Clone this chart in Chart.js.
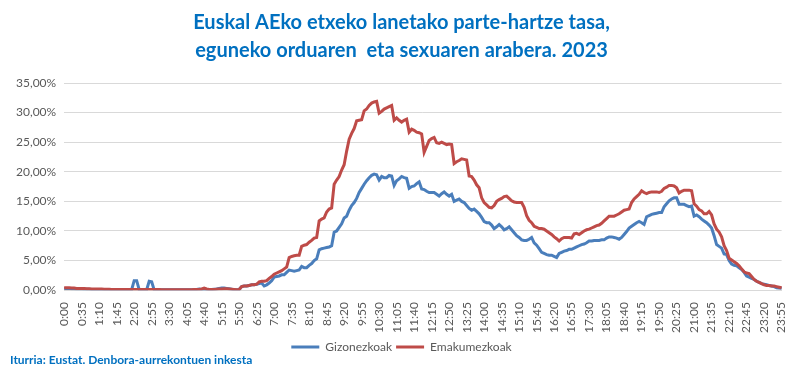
<!DOCTYPE html>
<html>
<head>
<meta charset="utf-8">
<script src="https://cdn.jsdelivr.net/npm/chart.js@4"></script>
<style>
  body { margin: 0; background: #fff; }
  #wrap { position: relative; width: 800px; height: 389px; }
  #source {
    position: absolute; left: 10px; top: 352px;
    font: bold 12px Lato, sans-serif; color: #0070C0;
  }
</style>
</head>
<body>
<div id="wrap">
  <canvas id="chart" width="800" height="389"></canvas>
  <div id="source">Iturria: Eustat. Denbora-aurrekontuen inkesta</div>
</div>
<script>
// 5-minute slots, 0:00 .. 23:55 (one row per hour)
const times = [];
for (let h = 0; h < 24; h++) {
    for (let m = 0; m < 60; m += 5) {
        times.push(`${h}:${String(m).padStart(2, '0')}`);
    }
}

const gizonezkoak = [
    0.3, 0.3, 0.3, 0.25, 0.25, 0.2, 0.2, 0.2, 0.15, 0.15, 0.15, 0.1,
    0.1, 0.1, 0.1, 0.1, 0.1, 0.05, 0.05, 0.05, 0.05, 0.05, 0.05, 0.05,
    0.05, 0.05, 0.05, 0.1, 1.6, 1.6, 0.1, 0.05, 0.05, 0.1, 1.5, 1.4,
    0.05, 0.05, 0.05, 0.05, 0.05, 0.05, 0.05, 0.05, 0.05, 0.05, 0.05, 0.05,
    0.05, 0.05, 0.05, 0.05, 0.05, 0.1, 0.2, 0.1, 0.05, 0.05, 0.1, 0.1,
    0.15, 0.2, 0.3, 0.35, 0.35, 0.3, 0.25, 0.15, 0.05, 0.05, 0.1, 0.6,
    0.7, 0.7, 0.8, 0.9, 0.9, 1.0, 1.1, 1.2, 0.7, 0.9, 1.2, 1.6,
    2.2, 2.3, 2.4, 2.6, 2.6, 3.0, 3.4, 3.3, 3.2, 3.3, 3.4, 4.0,
    3.8, 3.8, 4.2, 4.5, 5.0, 5.3, 6.8, 7.0, 7.1, 7.2, 7.3, 7.5,
    9.8, 10.0, 10.6, 11.2, 12.2, 12.5, 13.5, 14.3, 14.8, 15.5, 16.5, 17.2,
    17.9, 18.5, 19.0, 19.4, 19.6, 19.5, 18.6, 19.2, 19.0, 19.0, 19.4, 19.3,
    17.7, 18.5, 18.8, 19.2, 19.0, 18.9, 17.2, 17.5, 17.6, 18.0, 18.3, 17.1,
    17.0, 16.7, 16.5, 16.5, 16.5, 16.2, 15.9, 16.3, 16.6, 16.2, 15.9, 16.2,
    15.0, 15.2, 15.4, 15.0, 14.8, 14.3, 13.8, 13.5, 13.7, 13.3, 12.9, 12.3,
    11.6, 11.4, 11.4, 11.0, 10.4, 10.7, 11.1, 10.7, 10.2, 10.4, 10.7, 10.2,
    9.7, 9.2, 8.9, 8.5, 8.4, 8.4, 8.6, 8.9, 8.0, 7.6, 7.0, 6.4,
    6.2, 6.0, 5.9, 5.9, 5.7, 5.5, 6.2, 6.4, 6.6, 6.7, 6.9, 6.9,
    7.1, 7.3, 7.5, 7.7, 7.8, 8.0, 8.3, 8.3, 8.4, 8.4, 8.4, 8.5,
    8.5, 8.8, 9.0, 9.0, 8.9, 8.8, 8.6, 8.9, 9.4, 9.9, 10.5, 10.8,
    11.1, 11.4, 11.6, 11.4, 11.1, 12.4, 12.6, 12.8, 12.9, 13.0, 13.1, 13.1,
    14.1, 14.6, 15.1, 15.4, 15.6, 15.6, 14.5, 14.5, 14.5, 14.3, 14.1, 14.2,
    12.5, 12.7, 12.4, 12.0, 11.7, 11.4, 11.0, 10.5, 9.2, 7.7, 7.4, 7.1,
    6.1, 6.0, 5.0, 4.4, 4.2, 4.1, 3.8, 3.5, 3.0, 2.4, 2.2, 2.0,
    1.8, 1.5, 1.3, 1.1, 1.0, 0.9, 0.8, 0.7, 0.6, 0.4, 0.35, 0.3
];

const emakumezkoak = [
    0.4, 0.4, 0.4, 0.35, 0.35, 0.3, 0.3, 0.3, 0.3, 0.25, 0.25, 0.2,
    0.2, 0.2, 0.2, 0.2, 0.15, 0.15, 0.15, 0.1, 0.1, 0.1, 0.1, 0.1,
    0.1, 0.1, 0.1, 0.1, 0.1, 0.1, 0.1, 0.1, 0.1, 0.1, 0.1, 0.1,
    0.1, 0.1, 0.1, 0.05, 0.05, 0.05, 0.05, 0.05, 0.05, 0.05, 0.05, 0.05,
    0.05, 0.05, 0.05, 0.05, 0.1, 0.1, 0.1, 0.2, 0.35, 0.2, 0.1, 0.1,
    0.1, 0.15, 0.2, 0.2, 0.25, 0.25, 0.2, 0.15, 0.1, 0.05, 0.1, 0.6,
    0.7, 0.7, 0.8, 0.9, 0.9, 1.0, 1.4, 1.5, 1.5, 1.6, 2.0, 2.3,
    2.7, 2.9, 3.1, 3.3, 3.6, 3.9, 5.5, 5.7, 5.8, 5.9, 5.9, 7.4,
    7.6, 7.7, 8.1, 8.4, 8.8, 8.9, 11.7, 12.0, 12.2, 13.2, 13.7, 13.9,
    17.9, 18.6, 19.2, 20.3, 21.2, 23.5, 25.5, 26.5, 27.3, 28.6, 28.7, 28.8,
    30.3, 30.6, 31.2, 31.6, 31.8, 31.9, 29.9, 30.2, 30.6, 30.8, 31.0, 31.2,
    28.7, 29.1, 28.7, 28.4, 28.7, 28.9, 26.7, 27.2, 27.0, 26.7, 26.6, 26.4,
    23.3, 24.3, 25.3, 25.6, 25.8, 24.9, 24.8, 25.0, 24.8, 24.6, 24.7, 24.6,
    21.4, 21.7, 21.9, 22.2, 22.1, 22.0, 19.3, 19.2, 18.6, 17.8, 17.3, 15.6,
    14.8, 14.4, 14.0, 13.9, 14.3, 15.0, 15.3, 15.5, 15.8, 15.9, 15.5, 15.1,
    14.9, 14.8, 14.8, 14.8, 14.0, 12.6, 11.8, 11.4, 10.8, 10.6, 10.4, 10.4,
    10.3, 10.0, 9.7, 9.4, 9.0, 8.7, 8.3, 8.7, 8.9, 8.9, 8.9, 8.8,
    9.5, 9.6, 9.4, 9.7, 10.0, 10.2, 10.3, 10.5, 10.7, 10.9, 11.0, 11.3,
    11.7, 12.1, 12.5, 12.5, 12.5, 12.7, 12.9, 13.2, 13.5, 13.6, 13.7, 14.8,
    15.4, 15.8, 16.2, 16.8, 16.5, 16.3, 16.5, 16.6, 16.6, 16.6, 16.5, 16.7,
    17.2, 17.4, 17.7, 17.7, 17.6, 17.3, 16.4, 16.7, 16.9, 16.9, 16.9, 16.8,
    14.6, 14.2, 13.6, 13.4, 12.9, 12.9, 13.3, 12.7, 11.2, 10.3, 9.8, 9.0,
    7.5, 6.7, 5.4, 5.1, 4.8, 4.5, 4.1, 3.6, 3.1, 2.9, 2.8, 2.3,
    1.8, 1.5, 1.3, 1.1, 0.9, 0.8, 0.8, 0.7, 0.7, 0.6, 0.5, 0.4
];

const blue = '#4A7EBB';
const red = '#BE4B48';

new Chart(document.getElementById('chart'), {
    type: 'line',
    data: {
        labels: times,
        datasets: [{
            label: 'Gizonezkoak',
            data: gizonezkoak,
            borderColor: blue,
            backgroundColor: blue,
            borderWidth: 3,
            pointRadius: 0,
            tension: 0,
            order: 1
        },
        {
            label: 'Emakumezkoak',
            data: emakumezkoak,
            borderColor: red,
            backgroundColor: red,
            borderWidth: 3,
            pointRadius: 0,
            tension: 0,
            order: 0
        }]
    },
    options: {
        responsive: false,
        animation: false,
        layout: {
            padding: { left: 8, right: 5, top: 6, bottom: 26 }
        },
        plugins: {
            title: {
                display: true,
                text: ['Euskal AEko etxeko lanetako parte-hartze tasa,', 'eguneko orduaren  eta sexuaren arabera. 2023'],
                color: '#0070C0',
                font: { family: 'Lato', size: 20, weight: 'bold', lineHeight: 1.4 },
                padding: { top: 3, bottom: 18 }
            },
            legend: {
                position: 'bottom',
                reverse: true,
                labels: {
                    color: '#595959',
                    font: { family: 'Lato', size: 12 },
                    boxWidth: 28,
                    boxHeight: 3,
                    padding: 4,
                    generateLabels: chart =>
                        Chart.defaults.plugins.legend.labels.generateLabels(chart)
                            .map(item => ({ ...item, lineWidth: 0 }))
                }
            },
            tooltip: { enabled: false }
        },
        scales: {
            y: {
                min: 0,
                max: 35,
                ticks: {
                    stepSize: 5,
                    color: '#595959',
                    font: { family: 'Lato', size: 12 },
                    padding: 8,
                    callback: value => value.toFixed(2).replace('.', ',') + '%'
                },
                grid: { color: '#D9D9D9', drawTicks: false },
                border: { display: false }
            },
            x: {
                offset: false,
                ticks: {
                    autoSkip: false,
                    minRotation: 90,
                    maxRotation: 90,
                    color: '#595959',
                    font: { family: 'Lato', size: 12 },
                    padding: 4,
                    callback: (value, index) => index % 7 === 0 ? times[index] : ''
                },
                grid: { display: false },
                border: { color: '#D9D9D9' }
            }
        }
    }
});
</script>
</body>
</html>
